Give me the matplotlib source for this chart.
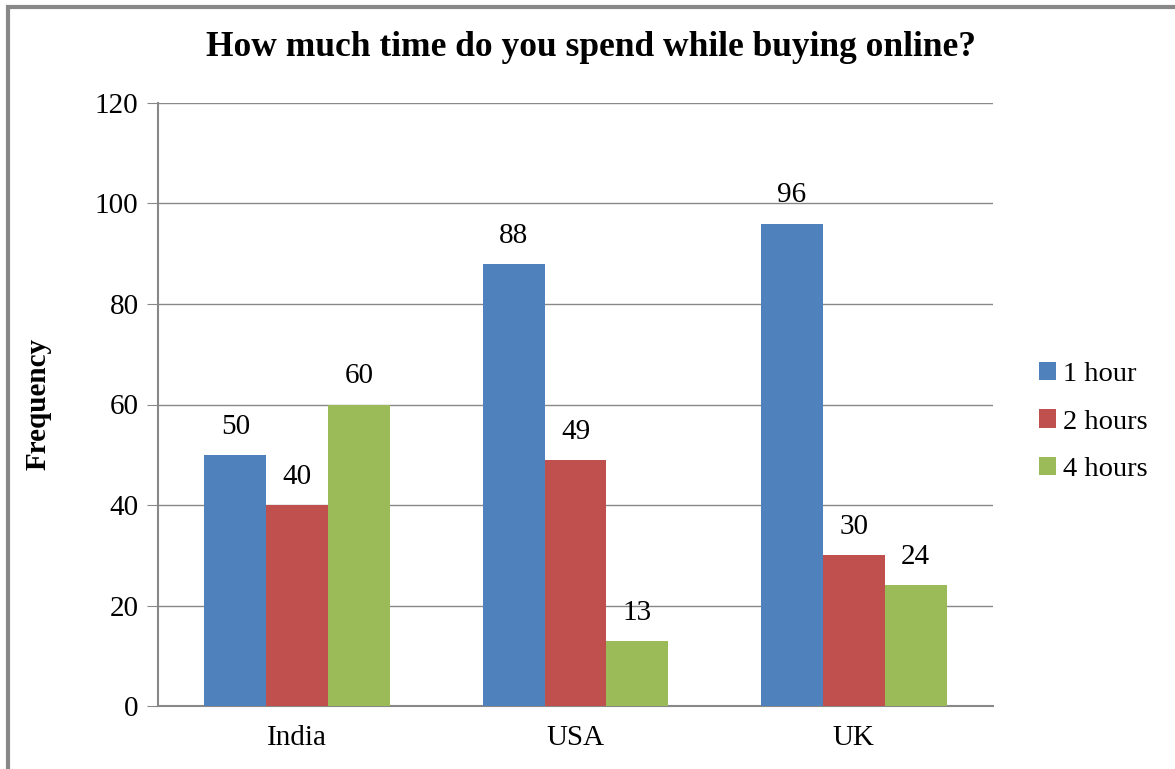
import matplotlib.pyplot as plt
from matplotlib.patches import Rectangle
import numpy as np

countries = ["India", "USA", "UK"]
series_names = ["1 hour", "2 hours", "4 hours"]
one_hour = [50, 88, 96]
two_hours = [40, 49, 30]
four_hours = [60, 13, 24]
colors = ["#4F81BD", "#C0504D", "#9BBB59"]
y_ticks = [0, 20, 40, 60, 80, 100, 120]

plt.rcParams['font.family'] = ['Liberation Serif', 'DejaVu Serif']

fig = plt.figure(figsize=(11.75, 7.69), dpi=100)
ax = fig.add_axes([158 / 1175, 1 - 706 / 769, 835 / 1175, 603 / 769])

# outer chart border (Excel-style)
fig.patches.append(Rectangle((8 / 1175, -0.1), 1.2, 1 - 7 / 769 + 0.1,
                             transform=fig.transFigure, fill=False,
                             edgecolor="#888888", linewidth=3))

x = np.arange(len(countries))
width = 0.222
for i, (vals, name) in enumerate(zip([one_hour, two_hours, four_hours], series_names)):
    bars = ax.bar(x + (i - 1) * width, vals, width, color=colors[i], label=name, zorder=3)
    for b, v in zip(bars, vals):
        ax.text(b.get_x() + b.get_width() / 2, v + 5.6, str(v),
                ha="center", va="center", fontsize=21)

ax.set_xlim(-0.5, 2.5)
ax.set_ylim(0, 120)
ax.set_yticks(y_ticks)
ax.set_xticks(x)
ax.set_xticklabels(countries)
ax.tick_params(axis="y", length=8, color="#888888", labelsize=21, pad=6)
ax.tick_params(axis="x", length=0, labelsize=21, pad=14)
ax.yaxis.grid(True, color="#888888", linewidth=1, zorder=0)
for s in ["top", "right"]:
    ax.spines[s].set_visible(False)
for s in ["left", "bottom"]:
    ax.spines[s].set_color("#888888")
    ax.spines[s].set_linewidth(1.5)

ax.set_ylabel("Frequency", fontsize=21, fontweight="bold")
ax.yaxis.set_label_coords(-0.127, 0.5)
fig.text(591 / 1175, 1 - 48 / 769, "How much time do you spend while buying online?",
         ha="center", va="center", fontsize=25.5, fontweight="bold")

ax.legend(loc="center left", bbox_to_anchor=(1.024, 0.471), frameon=False,
          fontsize=20.5, handlelength=0.6, handleheight=0.6, handletextpad=0.25,
          labelspacing=0.8)

fig.savefig("out.png", dpi=100)
